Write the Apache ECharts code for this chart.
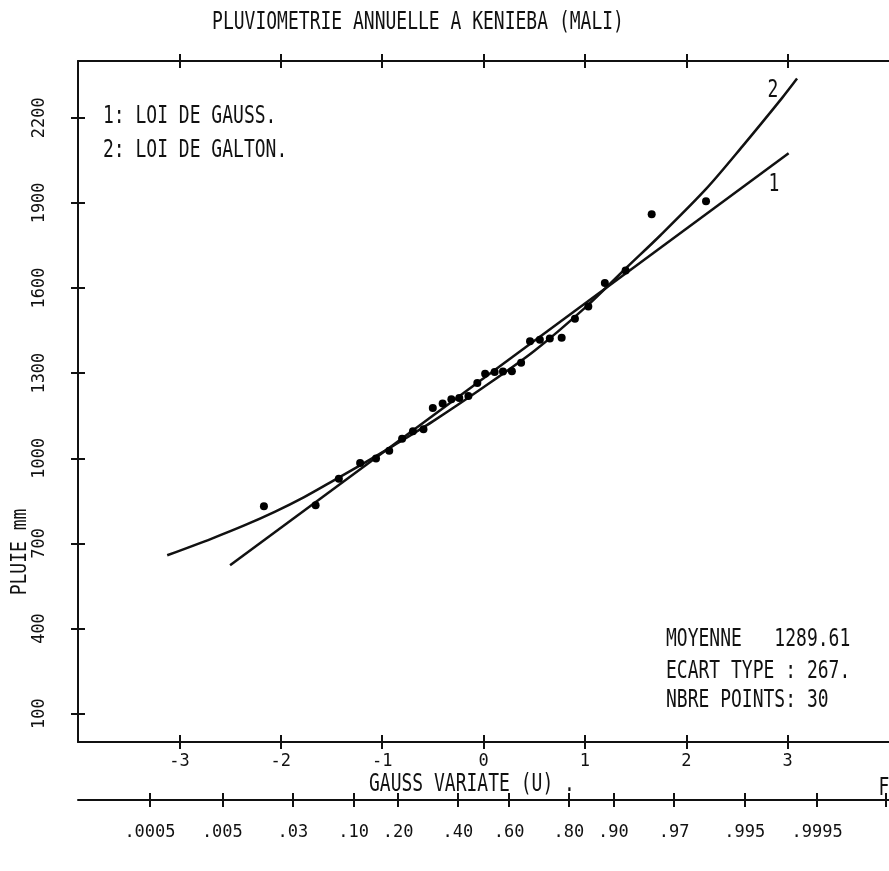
<!DOCTYPE html>
<html>
<head>
<meta charset="utf-8">
<script src="https://cdn.jsdelivr.net/npm/echarts@6/dist/echarts.min.js"></script>
<style>
html,body{margin:0;padding:0;background:#fff;}
#chart{width:889px;height:871px;}
</style>
</head>
<body>
<div id="chart"></div>
<script>
// ---- data ----
const xTicks = [-3, -2, -1, 0, 1, 2, 3];
const yTicks = [100, 400, 700, 1000, 1300, 1600, 1900, 2200];
const probLabels = ['.0005', '.005', '.03', '.10', '.20', '.40', '.60', '.80', '.90', '.97', '.995', '.9995'];
const probU = [-3.29, -2.576, -1.881, -1.282, -0.842, -0.253, 0.253, 0.842, 1.282, 1.881, 2.576, 3.29];
const probEndTick = [3.97];

const pointU = [-2.166, -1.656, -1.427, -1.217, -1.060, -0.930, -0.803, -0.696, -0.592, -0.500,
                -0.403, -0.317, -0.239, -0.149, -0.061, 0.016, 0.110, 0.192, 0.280, 0.371,
                0.459, 0.556, 0.654, 0.771, 0.902, 1.034, 1.197, 1.402, 1.659, 2.195];
const pointRain = [831, 834, 928, 983, 999, 1026, 1069, 1095, 1102, 1177,
                   1193, 1208, 1212, 1219, 1265, 1298, 1304, 1306, 1307, 1337,
                   1412, 1418, 1422, 1425, 1492, 1535, 1618, 1662, 1860, 1906];

const gaussU = [-2.5, 3.01];
const gaussRain = [623, 2075];

const galtonU = [-3.12, -2.68, -2.354, -2.06, -1.769, -1.476, -1.217, -0.9, -0.5, 0, 0.5, 1.0, 1.418, 1.743, 2.198, 2.556, 2.946, 3.093];
const galtonRain = [658, 717, 764, 811, 863, 922, 975, 1042, 1130, 1250, 1378, 1530, 1674, 1785, 1950, 2100, 2270, 2338];

const titleText = 'PLUVIOMETRIE ANNUELLE A KENIEBA (MALI)';
const legendLines = ['1: LOI DE GAUSS.', '2: LOI DE GALTON.'];
const statLines = ['MOYENNE   1289.61', 'ECART TYPE : 267.', 'NBRE POINTS: 30'];
const xName = 'GAUSS VARIATE (U) .';
const yName = 'PLUIE mm';

// ---- chart ----
const FONT = '"DejaVu Sans Mono", "Liberation Mono", monospace';
const chart = echarts.init(document.getElementById('chart'), null, {renderer: 'canvas'});
const zip = (a, b) => a.map((v, i) => [v, b[i]]);
const black = '#111';
const lineStyleAxis = {color: black, width: 2};
const tickStyle = {color: black, width: 2};
function txt(x, y, text, opts) {
  opts = opts || {};
  return {
    type: 'text', x: x, y: y, rotation: opts.rotation || 0,
    scaleY: opts.scaleY || 1.4, scaleX: opts.scaleX || 1,
    style: {
      text: text, fill: black,
      font: (opts.size || 18) + 'px ' + FONT,
      textAlign: opts.align || 'left', align: opts.align || 'left',
      textVerticalAlign: 'middle', verticalAlign: 'middle'
    }
  };
}

// main axis: line + outer half of the ticks; twin axis (offset inward): inner half of the ticks
function xAxisDef(grid, pos, ticks, labelOpt, twin) {
  return {
    type: 'value', gridIndex: grid, min: -4, max: 4, position: pos,
    offset: twin ? -7 : 0,
    axisLine: {show: !twin, onZero: false, lineStyle: lineStyleAxis},
    axisTick: {show: true, length: 7, lineStyle: tickStyle, customValues: ticks},
    axisLabel: labelOpt || {show: false},
    splitLine: {show: false}
  };
}
function yAxisDef(twin) {
  return {
    type: 'value', gridIndex: 0, min: 0, max: 2400, position: 'left',
    offset: twin ? -7 : 0,
    axisLine: {show: !twin, onZero: false, lineStyle: lineStyleAxis},
    axisTick: {show: true, length: 7, lineStyle: tickStyle, customValues: yTicks},
    axisLabel: twin ? {show: false} : {show: true, customValues: yTicks, rotate: 90, color: black, fontFamily: FONT, fontSize: 17, margin: 30,
      formatter: function (v) { return String(v); }},
    splitLine: {show: false}
  };
}

const option = {
  backgroundColor: '#fff',
  animation: false,
  grid: [
    {left: 78, top: 61, width: 820, height: 681},
    {left: 78, top: 700, width: 820, height: 100}
  ],
  xAxis: [
    xAxisDef(0, 'bottom', xTicks, {show: true, customValues: xTicks, color: black, fontFamily: FONT, fontSize: 17, margin: 11}, false),
    xAxisDef(0, 'bottom', xTicks, null, true),
    xAxisDef(0, 'top', xTicks, null, false),
    xAxisDef(0, 'top', xTicks, null, true),
    xAxisDef(1, 'bottom', probU.concat(probEndTick), {
      show: true, customValues: probU, color: black, fontFamily: FONT, fontSize: 17, margin: 24,
      formatter: function (v) { const i = probU.findIndex(p => Math.abs(p - v) < 1e-6); return i >= 0 ? probLabels[i] : ''; }
    }, false),
    xAxisDef(1, 'bottom', probU.concat(probEndTick), null, true)
  ],
  yAxis: [
    yAxisDef(false),
    yAxisDef(true),
    {type: 'value', gridIndex: 1, show: false, min: 0, max: 1}
  ],
  series: [
    {
      type: 'line', name: 'LOI DE GAUSS', xAxisIndex: 0, yAxisIndex: 0,
      data: zip(gaussU, gaussRain), showSymbol: false, symbol: 'none',
      lineStyle: {color: black, width: 2.5}, z: 2
    },
    {
      type: 'line', name: 'LOI DE GALTON', xAxisIndex: 0, yAxisIndex: 0,
      data: zip(galtonU, galtonRain), showSymbol: false, symbol: 'none', smooth: 0.3,
      lineStyle: {color: black, width: 2.5}, z: 2
    },
    {
      type: 'scatter', name: 'PLUIE', xAxisIndex: 0, yAxisIndex: 0,
      data: zip(pointU, pointRain), symbol: 'circle', symbolSize: 8,
      itemStyle: {color: '#000', opacity: 1}, z: 3
    }
  ],
  graphic: [
    txt(418, 22, titleText, {align: 'center'}),
    txt(103, 116, legendLines[0]),
    txt(103, 150, legendLines[1]),
    txt(666, 639, statLines[0]),
    txt(666, 671, statLines[1]),
    txt(666, 700, statLines[2]),
    txt(369, 784, xName),
    txt(884, 788, 'F', {align: 'center'}),
    txt(773, 90, '2', {align: 'center'}),
    txt(774, 184, '1', {align: 'center'}),
    txt(20, 552, yName, {rotation: Math.PI / 2, align: 'center', scaleY: 1.2})
  ]
};
chart.setOption(option);
</script>
</body>
</html>
